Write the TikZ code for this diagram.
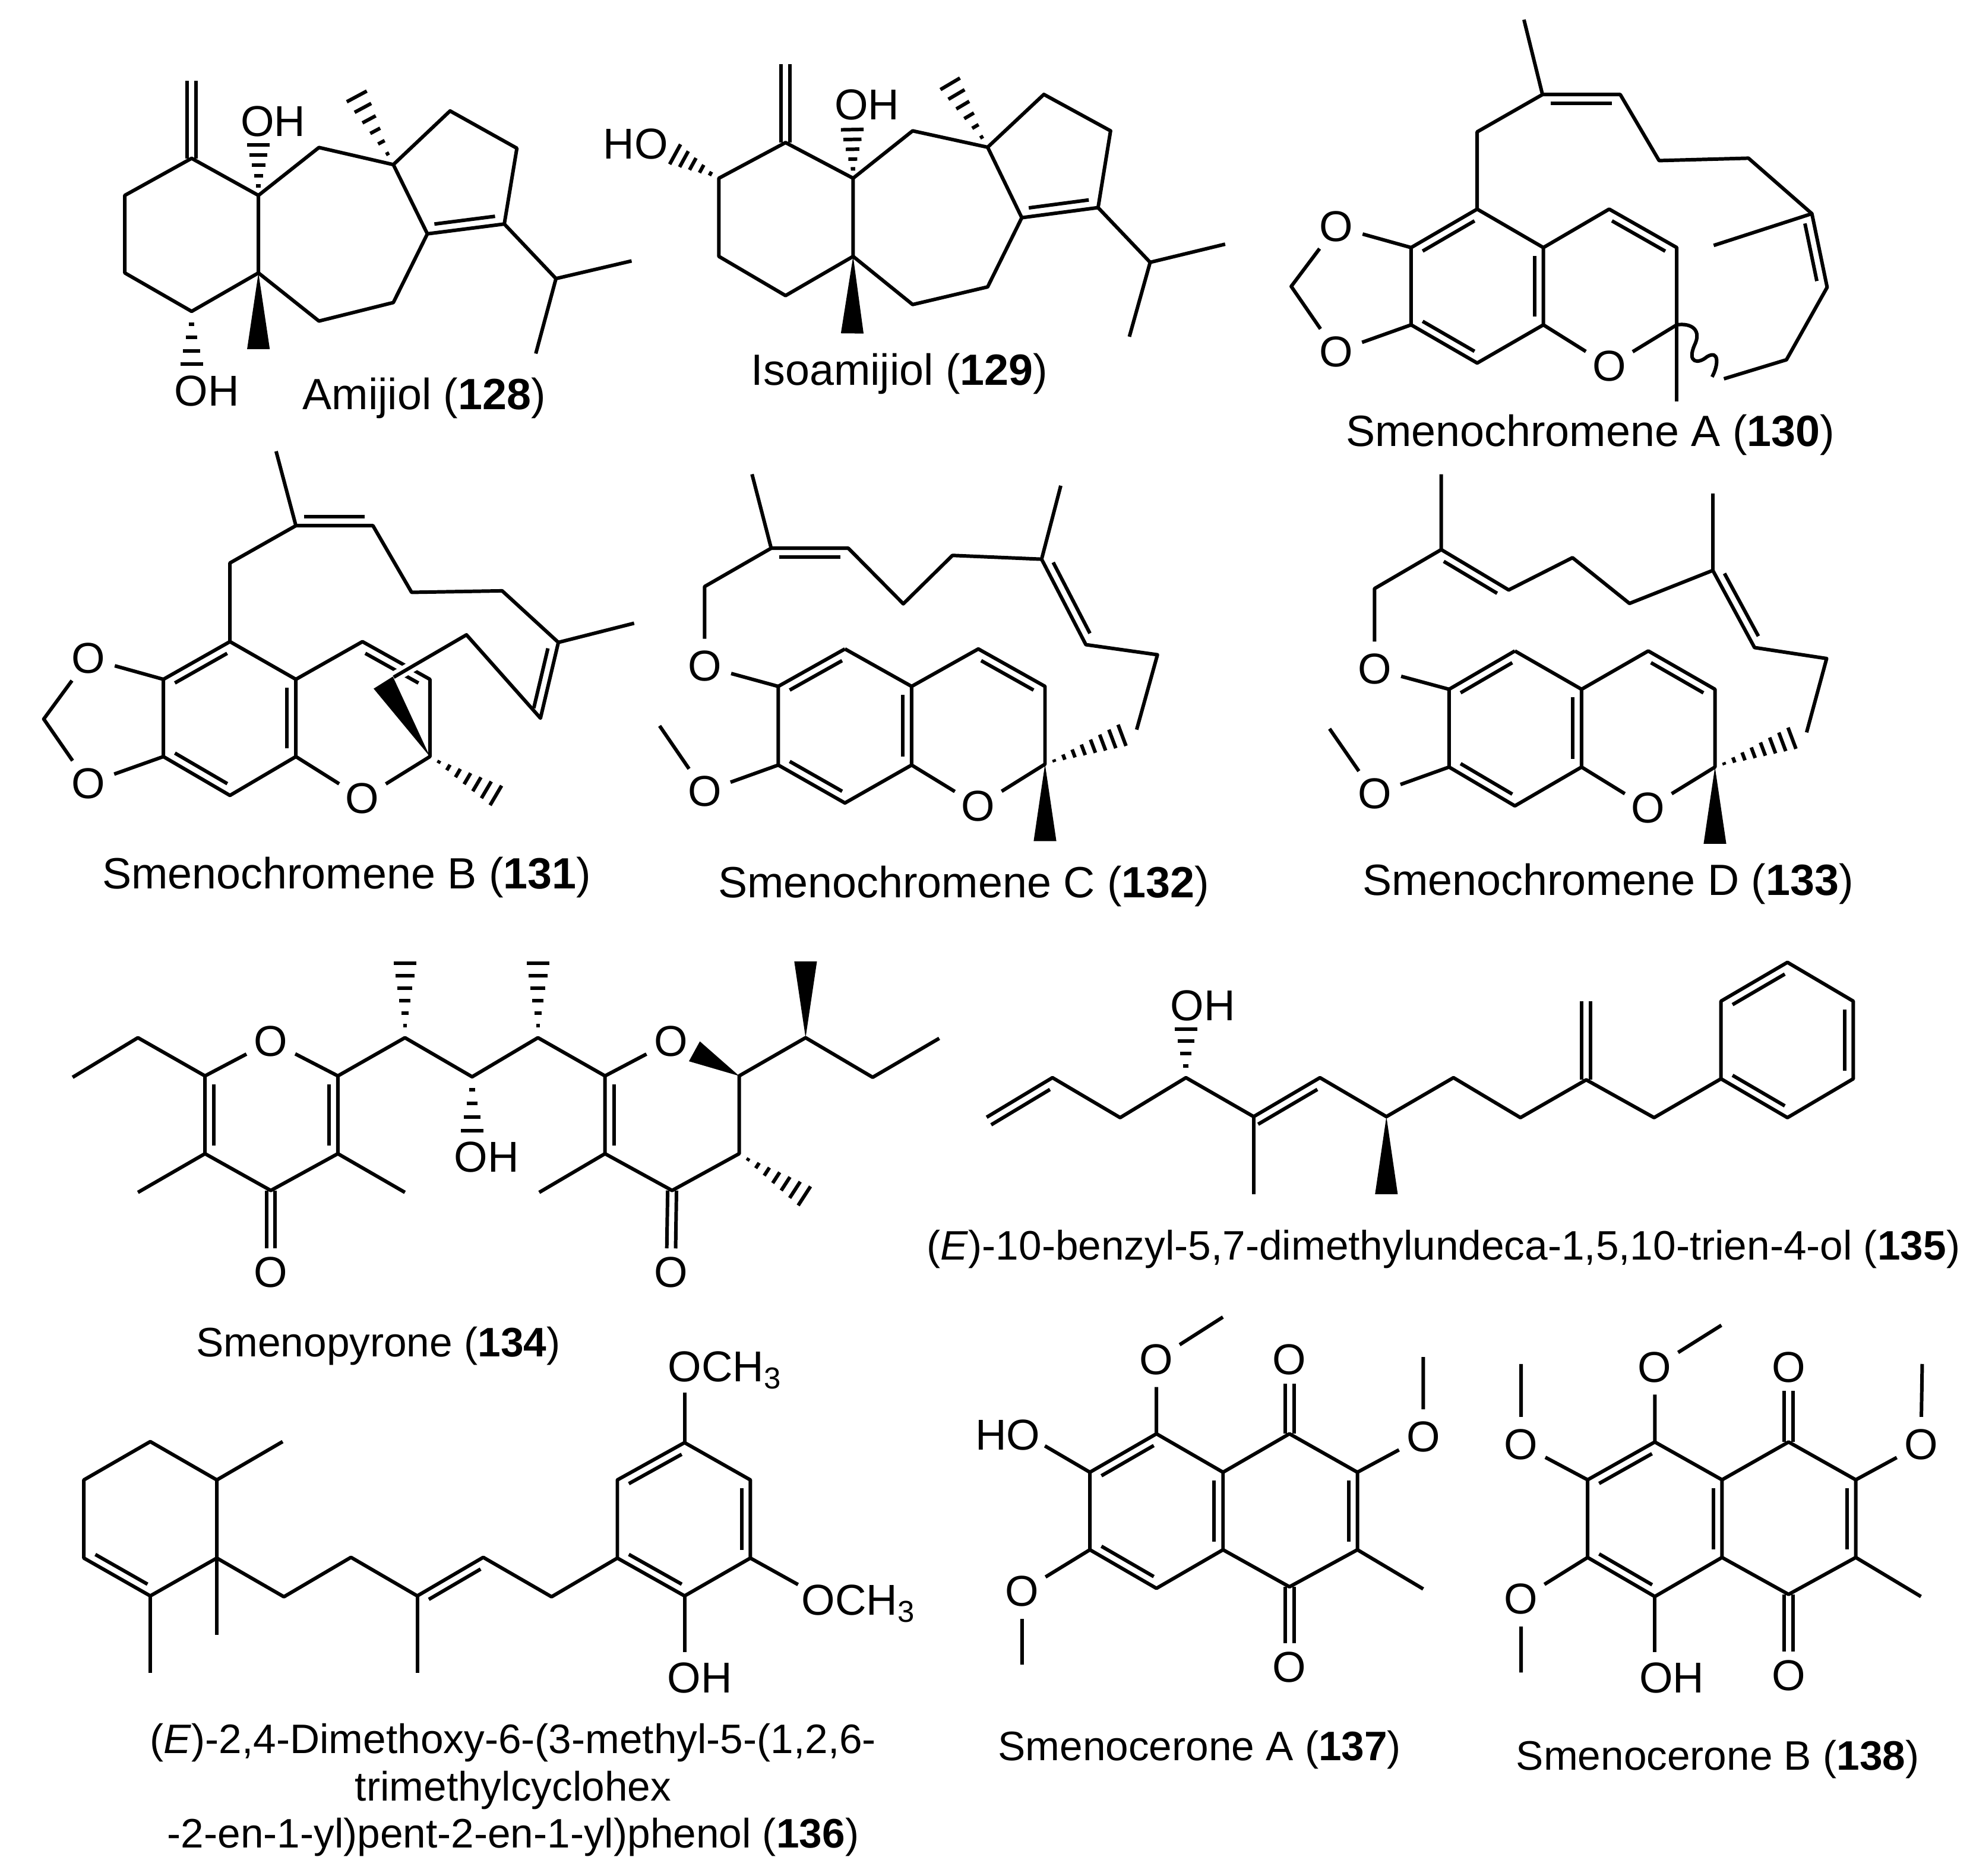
\documentclass[tikz,border=0pt]{standalone}
\usepackage{fontspec}
\setmainfont{Liberation Sans}
\usetikzlibrary{calc}
\tikzset{
every picture/.style={line width=1.6pt,line join=round},
atom/.style={font=\fontsize{19.5}{23}\selectfont,inner sep=0pt},
oxy/.style={atom,circle,inner sep=1pt},
caption/.style={font=\fontsize{19.75}{21.3}\selectfont,inner sep=0pt,align=center},
smallcaption/.style={caption,font=\fontsize{18.6}{21.3}\selectfont},
innerbond/.style={shorten <=0.13cm,shorten >=0.13cm},
halo/.style={white,line width=5pt}
}
% coordinates of one molecule: prefix, list of number/x/y
\newcommand{\atoms}[2]{\foreach \i/\px/\py in {#2} {\coordinate (#1\i) at (\px,\py);}}
% inner line of a double bond, on the left going from first to second
\newcommand{\dbl}[3][]{\draw[innerbond,#1] ($(#2)!0.14cm!90:(#3)$) -- ($(#3)!0.14cm!-90:(#2)$);}
% double bond with both lines either side of the axis
\newcommand{\dblsym}[3][]{\draw[#1] ($(#2)!0.07cm!90:(#3)$) -- ($(#3)!0.07cm!-90:(#2)$);
  \draw[#1] ($(#2)!0.07cm!-90:(#3)$) -- ($(#3)!0.07cm!90:(#2)$);}
\newcommand{\wedgeb}[2]{\fill (#1) -- ($(#2)!0.18cm!90:(#1)$) -- ($(#2)!0.18cm!-90:(#1)$) -- cycle;}
% hashed bond, optional argument is the number of stripes
\newcommand{\hashb}[3][6]{\coordinate (wl) at ($(#3)!0.18cm!90:(#2)$);
  \coordinate (wr) at ($(#3)!0.18cm!-90:(#2)$);
  \foreach \k in {1,...,#1} {
    \pgfmathsetmacro{\pos}{(\k-0.05)/(#1-0.05)}
    \draw ($(#2)!\pos!(wl)$) -- ($(#2)!\pos!(wr)$);
  }}

\begin{document}
\begin{tikzpicture}[x=0.02cm,y=-0.02cm]
    \useasboundingbox (0,0) rectangle (1565,1488.2);

    % Amijiol
    \atoms{a}{1/152/125.6,2/99/155,3/99/216.5,4/152/247,5/205/216.5,6/205/155,7/253/117,8/312/130.6,9/339/185.5,10/312/240,11/253/254.7,12/357/88,13/410/117.6,14/400/177.7,15/441/221,16/501/207,17/425/280.5,18/152/64,19/283/76.5,20/205/115,21/152/289,22/205/277}
    \draw (a1) -- (a2) -- (a3) -- (a4) -- (a5) -- (a6) -- cycle;
    \draw (a6) -- (a7) -- (a8) -- (a9) -- (a10) -- (a11) -- (a5);
    \draw (a8) -- (a12) -- (a13) -- (a14) -- (a9);
    \draw (a16) -- (a15) -- (a17);
    \draw (a14) -- (a15);
    \dbl{a9}{a14}
    \dblsym{a1}{a18}
    \hashb{a8}{a19}
    \hashb[5]{a6}{a20}
    \hashb[4]{a4}{a21}
    \wedgeb{a5}{a22}
    \node[atom] (aOH1) at (216.5,96.4) {OH};
    \node[atom] (aOH2) at (164,310) {OH};
    \node[caption] (cap128) at (336.5,316) {Amijiol (\textbf{128})};

    % Isoamijiol
    \atoms{b}{1/623.1/113.1,2/570.2/141.4,3/570.2/203.4,4/623.1/234.5,5/676.7/203.4,6/676.7/141.4,7/723.9/103.8,8/783.4/116.8,9/810.5/172.7,10/783.4/227.6,11/723.9/241.6,12/828/74.9,13/880.9/103.8,14/871/164.7,15/912.3/208.1,16/971.8/193.7,17/895.8/267.1,18/623.1/50.7,19/753.7/66.5,20/676/102.8,21/535.5/122.4,22/676/264.5}
    \draw (b1) -- (b2) -- (b3) -- (b4) -- (b5) -- (b6) -- cycle;
    \draw (b6) -- (b7) -- (b8) -- (b9) -- (b10) -- (b11) -- (b5);
    \draw (b8) -- (b12) -- (b13) -- (b14) -- (b9);
    \draw (b16) -- (b15) -- (b17);
    \draw (b14) -- (b15);
    \dbl{b9}{b14}
    \dblsym{b1}{b18}
    \hashb{b8}{b19}
    \hashb[5]{b6}{b20}
    \hashb[5]{b2}{b21}
    \wedgeb{b5}{b22}
    \node[atom] (bOH1) at (687.6,83.3) {OH};
    \node[atom] (bOH2) at (504.1,114) {HO};
    \node[caption] (cap129) at (713.5,296.5) {Isoamijiol (\textbf{129})};

    % Smenochromene A
    \atoms{c}{1/1208.8/15.6,2/1223.5/75,3/1285.2/75,4/1171.7/104.6,5/1171.7/165.9,6/1119.3/196.4,7/1119.3/257.7,8/1171.7/288,9/1224.2/257.7,10/1224.2/196.4,11/1276.4/165.9,12/1330/196.4,13/1330/257.7,14/1330/318.5,15/1024.2/227.2,16/1316/127.4,17/1386.9/125.5,18/1437.2/169.5,19/1359.3/194.7,20/1449.3/227.9,21/1417/285.4,22/1367.4/300.5}
    \node[oxy] (cO1) at (1059.8,179.8) {O};
    \node[oxy] (cO2) at (1059.8,278.9) {O};
    \node[oxy] (cO3) at (1276.4,290.4) {O};
    \draw (c1) -- (c2) -- (c3) -- (c16) -- (c17) -- (c18) -- (c20) -- (c21) -- (c22);
    \draw (c2) -- (c4) -- (c5) -- (c6) -- (c7) -- (c8) -- (c9) -- (c10) -- (c5);
    \draw (c10) -- (c11) -- (c12) -- (c13) -- (cO3) -- (c9);
    \draw (c13) -- (c14);
    \draw (c18) -- (c19);
    \draw (c6) -- (cO1) -- (c15) -- (cO2) -- (c7);
    \draw (c13) .. controls (1342,256) and (1350,262) .. (1344,274) .. controls (1338,288) and (1347,289) .. (1354,283) .. controls (1364,277) and (1363,290) .. (1358,299);
    \dbl{c3}{c2}
    \dbl{c5}{c6}
    \dbl{c9}{c10}
    \dbl{c7}{c8}
    \dbl{c12}{c11}
    \dbl{c20}{c18}
    \node[caption] (cap130) at (1261.5,345) {Smenochromene A (\textbf{130})};

    % Smenochromene B
    \atoms{d}{1/219/358,2/234.7/417,3/295.8/417,4/182.4/446.6,5/182.4/509,6/129.6/538.9,7/129.6/600.2,8/182.4/631,9/234.7/600.2,10/234.7/538.9,11/287.5/509,12/341/538.9,13/341/600.2,14/34.7/570.4,15/326.5/469.9,16/398.3/468.7,17/442.9/509.6,18/503/494.4,19/428.7/569.7,20/370/503.6,21/312.3/537.2,22/304/541.5,23/393.3/631}
    \node[oxy] (dO1) at (70,522.3) {O};
    \node[oxy] (dO2) at (70,621.4) {O};
    \node[oxy] (dO3) at (287.5,633.4) {O};
    \draw (d2) -- (d4) -- (d5) -- (d6) -- (d7) -- (d8) -- (d9) -- (d10) -- (d5);
    \draw (d10) -- (d11) -- (d12) -- (d13) -- (dO3) -- (d9);
    \draw (d6) -- (dO1) -- (d14) -- (dO2) -- (d7);
    \dbl{d5}{d6}
    \dbl{d9}{d10}
    \dbl{d7}{d8}
    \dbl{d12}{d11}
    \draw[halo] (d20) -- (d21);
    \draw (d1) -- (d2) -- (d3) -- (d15) -- (d16) -- (d17) -- (d19) -- (d20) -- (d21);
    \draw (d17) -- (d18);
    \dbl{d2}{d3}
    \dbl{d19}{d17}
    \wedgeb{d13}{d22}
    \hashb[7]{d13}{d23}
    \node[caption] (cap131) at (275,696) {Smenochromene B (\textbf{131})};

    % Smenochromene C
    \atoms{e}{1/596.5/376.2,2/611.7/434.9,3/672.9/434.9,4/558.9/465.3,5/716.5/479,6/755.5/440.6,7/826.2/443.6,8/841.4/385.3,9/861.3/511.4,10/918.1/519.4,11/901.6/578.8,12/670.2/514.8,13/617.3/544.5,14/617.3/606.9,15/670.2/637,16/723.1/606.9,17/723.1/544.5,18/776/514.8,19/828.9/544.5,20/828.9/606.2,21/890/583.3,22/828.9/667.2,23/523.2/575.8}
    \node[oxy] (eO1) at (558.9,528.5) {O};
    \node[oxy] (eO2) at (558.9,627.9) {O};
    \node[oxy] (eO3) at (776,639.3) {O};
    \draw (e1) -- (e2) -- (e3) -- (e5) -- (e6) -- (e7) -- (e9) -- (e10) -- (e11);
    \draw (e7) -- (e8);
    \draw (e2) -- (e4) -- (eO1) -- (e13);
    \draw (e12) -- (e13) -- (e14) -- (e15) -- (e16) -- (e17) -- (e12);
    \draw (e17) -- (e18) -- (e19) -- (e20) -- (eO3) -- (e16);
    \draw (e14) -- (eO2) -- (e23);
    \dbl{e3}{e2}
    \dbl{e7}{e9}
    \dbl{e12}{e13}
    \dbl{e16}{e17}
    \dbl{e14}{e15}
    \dbl{e19}{e18}
    \hashb[8]{e20}{e21}
    \wedgeb{e20}{e22}
    \node[caption] (cap132) at (764.5,703) {Smenochromene C (\textbf{132})};

    % Smenochromene D
    \atoms{f}{1/1143.2/376.2,2/1143.2/436,3/1196.7/468,4/1090.3/466.9,5/1247.3/442.4,6/1292.5/478.7,7/1358.6/452.5,8/1358.6/391.5,9/1391.7/513.7,10/1448.9/522.4,11/1433/581,12/1201.6/516.4,13/1149.4/546.8,14/1149.4/608.5,15/1201.6/639.3,16/1254.5/608.5,17/1254.5/546.8,18/1307.4/516.4,19/1360.3/546.8,20/1360.3/608.5,21/1421.4/585.6,22/1360.3/669.4,23/1054.6/578.1}
    \node[oxy] (fO1) at (1090.3,530.8) {O};
    \node[oxy] (fO2) at (1090.3,629.7) {O};
    \node[oxy] (fO3) at (1307.4,641.1) {O};
    \draw (f1) -- (f2) -- (f3) -- (f5) -- (f6) -- (f7) -- (f9) -- (f10) -- (f11);
    \draw (f7) -- (f8);
    \draw (f2) -- (f4) -- (fO1) -- (f13);
    \draw (f12) -- (f13) -- (f14) -- (f15) -- (f16) -- (f17) -- (f12);
    \draw (f17) -- (f18) -- (f19) -- (f20) -- (fO3) -- (f16);
    \draw (f14) -- (fO2) -- (f23);
    \dbl{f3}{f2}
    \dbl{f7}{f9}
    \dbl{f12}{f13}
    \dbl{f16}{f17}
    \dbl{f14}{f15}
    \dbl{f19}{f18}
    \hashb[8]{f20}{f21}
    \wedgeb{f20}{f22}
    \node[caption] (cap133) at (1275.5,701) {Smenochromene D (\textbf{133})};

    % Smenopyrone
    \atoms{g}{1/57.6/854.6,2/109.4/823.2,3/162.6/853.5,4/268/853.5,5/268/915.2,6/214.8/944.4,7/162.6/915.2,8/109.4/945.9,9/321.2/945.9,10/321.2/823.2,11/321.2/764.2,12/374.5/854.2,13/374.5/896.8,14/426.7/823.2,15/426.7/764.2,16/479.9/853.5,17/586.3/853.5,18/586.3/915.2,19/533.1/944.4,20/479.9/915.2,21/427.7/945.9,22/550.8/834,23/639/823.2,24/639/762.7,25/692.2/854.6,26/745/823.7,27/638/948.7}
    \node[oxy] (gO1) at (214.8,826) {O};
    \node[oxy] (gO2) at (532.1,826) {O};
    \node[oxy] (gO3) at (214.8,1009.3) {O};
    \node[oxy] (gO4) at (532.1,1009.3) {O};
    \draw (g1) -- (g2) -- (g3) -- (gO1) -- (g4) -- (g5) -- (g6) -- (g7) -- (g3);
    \draw (g7) -- (g8);
    \draw (g5) -- (g9);
    \draw (g4) -- (g10) -- (g12) -- (g14) -- (g16) -- (gO2);
    \draw (g16) -- (g20) -- (g19) -- (g18) -- (g17) -- (g23) -- (g25) -- (g26);
    \draw (g20) -- (g21);
    \dbl{g3}{g7}
    \dbl{g5}{g4}
    \dbl{g16}{g20}
    \dblsym[shorten >=0.38cm]{g6}{gO3}
    \dblsym[shorten >=0.38cm]{g19}{gO4}
    \hashb{g10}{g11}
    \hashb[4]{g12}{g13}
    \hashb{g14}{g15}
    \hashb[7]{g18}{g27}
    \wedgeb{g17}{g22}
    \wedgeb{g23}{g24}
    \node[atom] (gOH) at (386,918) {OH};
    \node[smallcaption] (cap134) at (300,1068) {Smenopyrone (\textbf{134})};

    % benzyl dimethylundecatrienol
    \atoms{h}{1/782.6/886.3,2/834.8/854.9,3/888.5/886.6,4/940.7/854.9,5/994.4/885.8,6/1047/854.9,7/1099.7/885.8,8/1152.9/854.9,9/1206/886.6,10/1258.2/856.6,11/1312/886.6,12/1365.1/855.8,13/1365.1/794.2,14/1417.8/763.4,15/1470/794.2,16/1470/855.8,17/1417.8/886.6,18/1258.2/794.2,19/994.4/947.3,20/1099.7/947.3,21/940.7/816.2}
    \draw (h1) -- (h2) -- (h3) -- (h4) -- (h5) -- (h6) -- (h7) -- (h8) -- (h9) -- (h10) -- (h11) -- (h12);
    \draw (h12) -- (h13) -- (h14) -- (h15) -- (h16) -- (h17) -- cycle;
    \draw (h5) -- (h19);
    \dbl[shorten >=0pt]{h2}{h1}
    \dbl[shorten >=0pt]{h6}{h5}
    \dbl{h14}{h13}
    \dbl{h16}{h15}
    \dbl{h12}{h17}
    \dblsym{h10}{h18}
    \wedgeb{h7}{h20}
    \hashb[4]{h4}{h21}
    \node[atom] (hOH) at (954,798) {OH};
    \node[smallcaption] (cap135) at (1145,991) {(\textit{E})-10-benzyl-5,7-dimethylundeca-1,5,10-trien-4-ol (\textbf{135})};

    % dimethoxy phenol
    \atoms{i}{1/119.2/1143.6,2/66.5/1174,3/66.5/1236,4/119.2/1266,5/172/1236,6/172/1174,7/224.2/1143.6,8/119.2/1327.2,9/172/1297,10/225.2/1266.7,11/278.4/1235.4,12/331/1266,13/331/1327.2,14/383.3/1235.4,15/437.5/1266.7,16/489.7/1236,17/489.7/1174,18/543/1144.4,19/595.2/1174,20/595.2/1236,21/543/1266,22/543/1104.7,23/633/1257,24/543/1310.5}
    \draw (i1) -- (i2) -- (i3) -- (i4) -- (i5) -- (i6) -- cycle;
    \draw (i6) -- (i7);
    \draw (i4) -- (i8);
    \draw (i5) -- (i9);
    \draw (i5) -- (i10) -- (i11) -- (i12) -- (i14) -- (i15) -- (i16);
    \draw (i12) -- (i13);
    \draw (i16) -- (i17) -- (i18) -- (i19) -- (i20) -- (i21) -- cycle;
    \draw (i18) -- (i22);
    \draw (i20) -- (i23);
    \draw (i21) -- (i24);
    \dbl{i3}{i4}
    \dbl{i14}{i12}
    \dbl{i18}{i17}
    \dbl{i20}{i19}
    \dbl{i16}{i21}
    \node[atom] (iMe1) at (575,1087) {OCH\textsubscript{3}};
    \node[atom] (iMe2) at (681,1272) {OCH\textsubscript{3}};
    \node[atom] (iOH) at (555,1331) {OH};
    \node[smallcaption] (cap136) at (407,1420) {(\textit{E})-2,4-Dimethoxy-6-(3-methyl-5-(1,2,6-\\trimethylcyclohex\\-2-en-1-yl)pent-2-en-1-yl)phenol (\textbf{136})};

    % Smenocerone A
    \atoms{j}{1/917.3/1137.4,2/864.5/1167.9,3/864.5/1229.4,4/917.3/1260,5/970.1/1229.4,6/970.1/1167.9,7/1022.8/1137.4,8/1076.7/1167.9,9/1076.7/1229.4,10/1022.8/1258.8,11/970/1044.8,12/1128.9/1076.5,13/810.7/1320.6,14/1128.9/1260.5,15/828.8/1147}
    \node[oxy] (jO1) at (917.3,1078.5) {O};
    \node[oxy] (jO2) at (1022.8,1078.5) {O};
    \node[oxy] (jO3) at (1128.9,1139.8) {O};
    \node[oxy] (jO4) at (810.7,1262.4) {O};
    \node[oxy] (jO5) at (1022.8,1322.5) {O};
    \node[atom] (jOH) at (799.3,1138.6) {HO};
    \draw (j1) -- (j2) -- (j3) -- (j4) -- (j5) -- (j6) -- cycle;
    \draw (j6) -- (j7) -- (j8) -- (j9) -- (j10) -- (j5);
    \draw (j1) -- (jO1) -- (j11);
    \draw (j8) -- (jO3) -- (j12);
    \draw (j3) -- (jO4) -- (j13);
    \draw (j9) -- (j14);
    \draw (j2) -- (j15);
    \dbl{j1}{j2}
    \dbl{j3}{j4}
    \dbl{j5}{j6}
    \dbl{j9}{j8}
    \dblsym[shorten >=0.38cm]{j7}{jO2}
    \dblsym[shorten >=0.38cm]{j10}{jO5}
    \node[smallcaption] (cap137) at (951.5,1388) {Smenocerone A (\textbf{137})};

    % Smenocerone B
    \atoms{k}{1/1312.6/1143.9,2/1259.3/1173.9,3/1259.3/1235.5,4/1312.6/1266.5,5/1365.9/1235.5,6/1365.9/1173.9,7/1418.7/1143.9,8/1472/1173.9,9/1472/1235.5,10/1418.7/1264.8,11/1365.4/1051.3,12/1524.7/1082,13/1206.5/1082,14/1206.5/1326.8,15/1523.7/1266.5,16/1312.6/1310.5}
    \node[oxy] (kO1) at (1312.6,1084.5) {O};
    \node[oxy] (kO2) at (1418.7,1084.5) {O};
    \node[oxy] (kO3) at (1523.7,1145.8) {O};
    \node[oxy] (kO4) at (1206.5,1145.8) {O};
    \node[oxy] (kO5) at (1206.5,1268.4) {O};
    \node[oxy] (kO6) at (1418.7,1329.2) {O};
    \draw (k1) -- (k2) -- (k3) -- (k4) -- (k5) -- (k6) -- cycle;
    \draw (k6) -- (k7) -- (k8) -- (k9) -- (k10) -- (k5);
    \draw (k1) -- (kO1) -- (k11);
    \draw (k8) -- (kO3) -- (k12);
    \draw (k2) -- (kO4) -- (k13);
    \draw (k3) -- (kO5) -- (k14);
    \draw (k9) -- (k15);
    \draw (k4) -- (k16);
    \dbl{k1}{k2}
    \dbl{k3}{k4}
    \dbl{k5}{k6}
    \dbl{k9}{k8}
    \dblsym[shorten >=0.38cm]{k7}{kO2}
    \dblsym[shorten >=0.38cm]{k10}{kO6}
    \node[atom] (kOH) at (1326,1331) {OH};
    \node[smallcaption] (cap138) at (1362.5,1395.5) {Smenocerone B (\textbf{138})};
\end{tikzpicture}
\end{document}
